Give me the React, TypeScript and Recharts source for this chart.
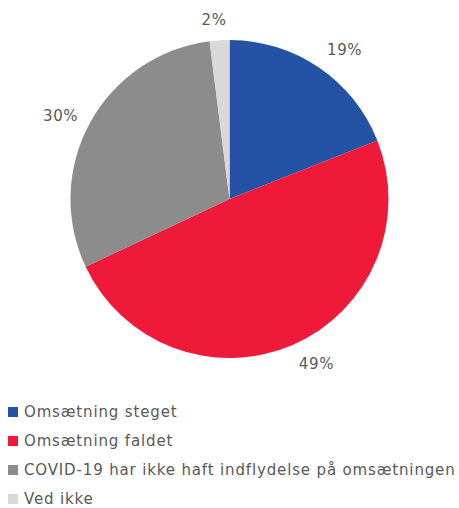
import { Cell, Legend, Pie, PieChart } from "recharts";

const labels = [
	"Omsætning steget",
	"Omsætning faldet",
	"COVID-19 har ikke haft indflydelse på omsætningen",
	"Ved ikke",
];
const shares = [19, 49, 30, 2];
const colors = ["#2452A4", "#EF1A3A", "#8C8C8C", "#D9D9D9"];

const data = labels.map((name, i) => ({ name, value: shares[i] }));

const FONT = "'DejaVu Sans', sans-serif";
const TEXT = "#595959";
const RADIAN = Math.PI / 180;

const clamp = (v: number, lo: number, hi: number) => Math.min(hi, Math.max(lo, v));

// outside-end labels: anchor just outside the rim, then push the text box away from it
// eslint-disable-next-line @typescript-eslint/no-explicit-any
function renderLabel(props: any) {
	const { cx, cy, midAngle, outerRadius, value } = props;
	const cos = Math.cos(-midAngle * RADIAN);
	const sin = Math.sin(-midAngle * RADIAN);
	const r = outerRadius + 12;
	const ox = 19 * clamp(cos * 4, -1, 1);
	const oy = 8.5 * clamp((Math.abs(sin) - 0.45) / 0.4, 0, 1) * Math.sign(sin);
	return (
		<text
			x={cx + r * cos + ox}
			y={cy + r * sin + oy}
			fill={TEXT}
			fontSize={15}
			fontFamily={FONT}
			letterSpacing={0.6}
			textAnchor="middle"
			dominantBaseline="central"
		>
			{value}%
		</text>
	);
}

function LegendList() {
	return (
		<div style={{ fontFamily: FONT, fontSize: 15, color: TEXT, textAlign: "left" }}>
			{labels.map((name, i) => (
				<div
					key={name}
					style={{ display: "flex", alignItems: "center", height: 29, letterSpacing: 0.85 }}
				>
					<span
						style={{
							display: "inline-block",
							width: 10,
							height: 10,
							background: colors[i],
							marginRight: 6,
						}}
					/>
					{name}
				</div>
			))}
		</div>
	);
}

export default function App() {
	return (
		<div style={{ position: "absolute", left: 0, top: 0, background: "#fff" }}>
			<PieChart width={459} height={508} margin={{ top: 0, right: 0, bottom: 0, left: 0 }}>
				<Pie
					data={data}
					dataKey="value"
					nameKey="name"
					cx={229.5}
					cy={199}
					outerRadius={159}
					startAngle={90}
					endAngle={-270}
					stroke="none"
					label={renderLabel}
					labelLine={false}
					isAnimationActive={false}
				>
					{data.map((d, i) => (
						<Cell key={d.name} fill={colors[i]} />
					))}
				</Pie>
				<Legend
					layout="horizontal"
					verticalAlign="bottom"
					align="left"
					content={() => <LegendList />}
					wrapperStyle={{ left: 8, bottom: -5, width: 451 }}
				/>
			</PieChart>
		</div>
	);
}
